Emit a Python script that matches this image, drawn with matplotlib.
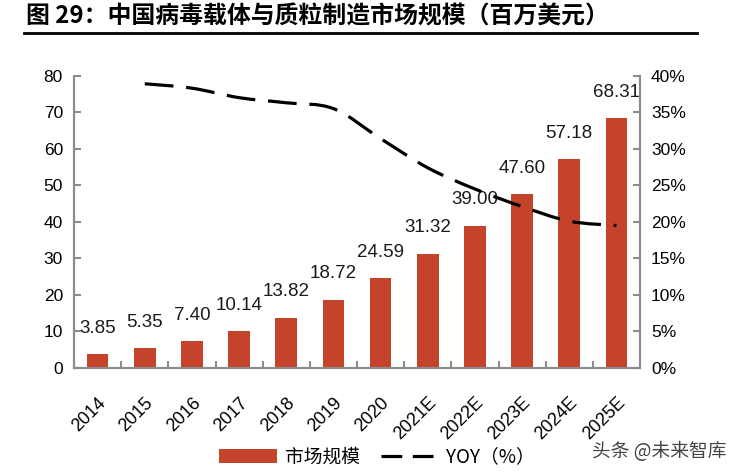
import numpy as np
import matplotlib.pyplot as plt
from matplotlib.path import Path
from matplotlib.patches import PathPatch, Patch
from matplotlib.lines import Line2D

plt.rcParams["font.family"] = ["Liberation Sans", "Noto Sans CJK SC", "DejaVu Sans"]

years = ["2014", "2015", "2016", "2017", "2018", "2019", "2020",
         "2021E", "2022E", "2023E", "2024E", "2025E"]
market = [3.85, 5.35, 7.40, 10.14, 13.82, 18.72, 24.59,
          31.32, 39.00, 47.60, 57.18, 68.31]
yoy = [None, 38.9, 38.3, 37.0, 36.3, 35.5, 31.4,
       27.4, 24.5, 22.1, 20.1, 19.5]

bar_color = "#C5432A"
spine_color = "#8C8C8C"
cjk = ["Noto Sans CJK SC", "DejaVu Sans"]
dash = (0, (9, 4))

fig = plt.figure(figsize=(7.38, 4.74), dpi=100)
ax = fig.add_axes([0.1003, 0.2236, 0.7669, 0.6166])
ax2 = ax.twinx()

x = np.arange(len(years))
ax.bar(x, market, width=0.46, color=bar_color, zorder=2)
for xi, v in zip(x, market):
    ax.text(xi, v + 7.1, f"{v:.2f}", ha="center", va="center",
            fontsize=13.5, color="#1a1a1a", zorder=4)

ax.set_xlim(-0.5, len(years) - 0.5)
ax.set_ylim(0, 80)
ax.set_yticks(range(0, 81, 10))
ax.set_xticks(np.arange(0.5, len(years) - 0.5), minor=True)
ax.set_xticks(x)
ax.set_xticklabels(years, rotation=45, ha="right", rotation_mode="anchor",
                   fontsize=13)
ax.tick_params(axis="x", which="major", length=0, pad=19)
ax.tick_params(axis="x", which="minor", direction="in", length=5,
               color=spine_color, width=1.5)
ax.tick_params(axis="y", direction="in", length=5, color=spine_color,
               width=1.5, labelsize=12.5, pad=8)

ax2.set_ylim(0, 40)
ax2.set_yticks(range(0, 41, 5))
ax2.set_yticklabels([f"{t}%" for t in range(0, 41, 5)])
ax2.tick_params(axis="y", direction="in", length=5, color=spine_color,
                width=1.5, labelsize=12.5, pad=8)

for a in (ax, ax2):
    a.spines["top"].set_visible(False)
    for s in ("left", "right", "bottom"):
        a.spines[s].set_color(spine_color)
        a.spines[s].set_linewidth(1.5)

# smooth YOY curve (Catmull-Rom -> Bezier through the data points)
px = [xi for xi, v in zip(x, yoy) if v is not None]
py = [v for v in yoy if v is not None]
pts = np.column_stack([px, py]).astype(float)
verts = [tuple(pts[0])]
codes = [Path.MOVETO]
for i in range(len(pts) - 1):
    p0 = pts[i - 1] if i > 0 else pts[i]
    p1 = pts[i]
    p2 = pts[i + 1]
    p3 = pts[i + 2] if i + 2 < len(pts) else pts[i + 1]
    c1 = p1 + (p2 - p0) / 6
    c2 = p2 - (p3 - p1) / 6
    verts += [tuple(c1), tuple(c2), tuple(p2)]
    codes += [Path.CURVE4] * 3
curve = PathPatch(Path(verts, codes), facecolor="none", edgecolor="black",
                  lw=2.3, linestyle=dash, zorder=3)
ax2.add_patch(curve)

fig.text(0.035, 0.966, "图 29：中国病毒载体与质粒制造市场规模（百万美元）",
         fontsize=17.2, fontweight="bold", va="center", ha="left", family=cjk)
fig.add_artist(Line2D([0.033, 0.944], [0.930, 0.930], color="black", lw=2))

handles = [Patch(facecolor=bar_color, label="市场规模"),
           Line2D([], [], color="black", lw=2.3, linestyle=(0, (6.5, 3.3)),
                  label="YOY（%）")]
fig.legend(handles=handles, loc="center", bbox_to_anchor=(0.511, 0.036),
           ncol=2, frameon=False, handlelength=3.1, handleheight=0.75,
           handletextpad=0.4, columnspacing=1.1,
           prop={"family": cjk, "size": 13.5})

fig.text(0.985, 0.048, "头条 @未来智库", fontsize=13.5, color="#444444",
         ha="right", va="center", family=cjk)

fig.savefig("out.png", dpi=100)
